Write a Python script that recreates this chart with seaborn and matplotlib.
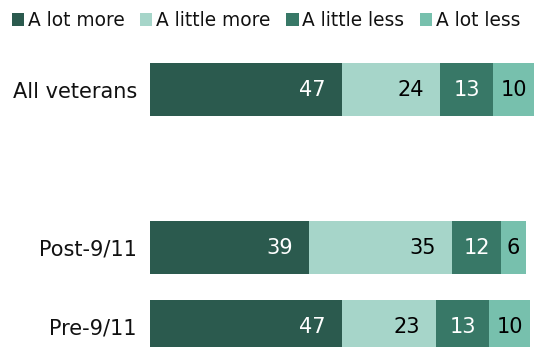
import matplotlib
matplotlib.use("Agg")
import matplotlib.pyplot as plt
import seaborn as sns
import pandas as pd
import numpy as np
from matplotlib.patches import Patch

groups = ["All veterans", "", "Post-9/11", "Pre-9/11"]
series = ["A lot more", "A little more", "A little less", "A lot less"]
a_lot_more = [47, 0, 39, 47]
a_little_more = [24, 0, 35, 23]
a_little_less = [13, 0, 12, 13]
a_lot_less = [10, 0, 6, 10]
colors = ["#2b5a4e", "#a6d5c9", "#387867", "#77c0ad"]
text_colors = ["white", "black", "white", "black"]

sns.set_theme(style="white")
plt.rcParams['font.family'] = ['DejaVu Sans']

vals = np.array([a_lot_more, a_little_more, a_little_less, a_lot_less], dtype=float)
cum = np.cumsum(vals, axis=0)

fig = plt.figure(figsize=(5.54, 3.47), dpi=100)
W, H = 554, 347
ax = fig.add_axes([150 / W, 0, (554 - 150) / W, (347 - 50) / H])

# draw stacked bars from largest cumulative to smallest (overlay)
for i in range(3, -1, -1):
    df = pd.DataFrame({"group": groups, "value": cum[i]})
    sns.barplot(data=df, x="value", y="group", orient="h", color=colors[i],
                width=0.67, saturation=1, ax=ax, linewidth=0, order=groups)

ax.set_xlim(0, 404 / 4.085)
ax.set_ylim(3.259, -0.5)
ax.set_xlabel("")
ax.set_ylabel("")
ax.set_xticks([])
ax.tick_params(axis="y", length=0, pad=9.4, labelsize=15)
ax.set_yticks([0, 2, 3])
ax.set_yticklabels([groups[0], groups[2], groups[3]], color="#111111")
for s in ax.spines.values():
    s.set_visible(False)

# value labels
for gi in [0, 2, 3]:
    left = 0.0
    for si in range(4):
        v = vals[si, gi]
        end = left + v
        x = max(left + v / 2, end - 7.2)
        ax.text(x, gi, f"{int(v)}", ha="center", va="center", fontsize=15,
                color=text_colors[si])
        left = end

handles = [Patch(facecolor=c, edgecolor="none") for c in colors]
fig.legend(handles, series, loc="upper left", bbox_to_anchor=(12 / W, 1 - 11 / H),
           ncol=4, frameon=False, fontsize=13.4, handlelength=0.65, handleheight=0.65,
           handletextpad=0.2, columnspacing=0.85, borderpad=0, borderaxespad=0,
           labelcolor="#111111")

fig.savefig("out.png", dpi=100)
